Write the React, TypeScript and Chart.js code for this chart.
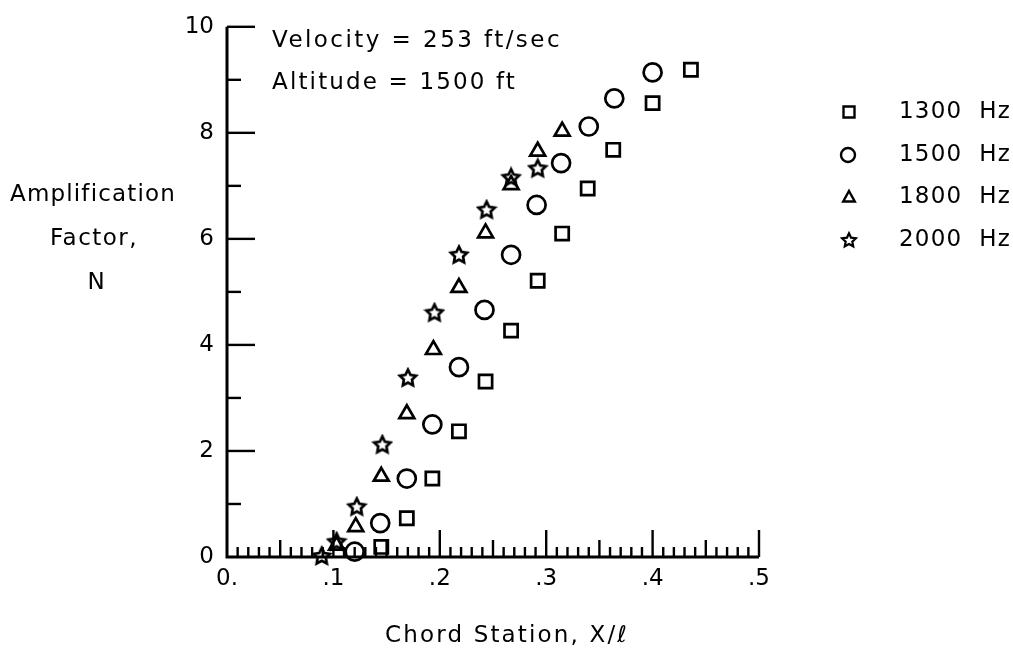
import React, { useEffect, useRef } from 'react';
import { Chart, registerables } from 'chart.js';

Chart.register(...registerables);

// ---- data ----
const seriesLabels = ['1300  Hz', '1500  Hz', '1800  Hz', '2000  Hz'];

const x1300 = [0.145, 0.169, 0.193, 0.218, 0.243, 0.267, 0.292, 0.315, 0.339, 0.363, 0.400, 0.436];
const y1300 = [0.19, 0.73, 1.48, 2.37, 3.31, 4.27, 5.21, 6.10, 6.95, 7.68, 8.56, 9.19];

const x1500 = [0.120, 0.144, 0.169, 0.193, 0.218, 0.242, 0.267, 0.291, 0.314, 0.340, 0.364, 0.400];
const y1500 = [0.10, 0.64, 1.48, 2.50, 3.58, 4.66, 5.70, 6.64, 7.43, 8.12, 8.65, 9.14];

const x1800 = [0.103, 0.121, 0.145, 0.169, 0.194, 0.218, 0.243, 0.267, 0.292, 0.315];
const y1800 = [0.22, 0.57, 1.52, 2.70, 3.91, 5.08, 6.11, 7.02, 7.65, 8.03];

const x2000 = [0.089, 0.103, 0.122, 0.146, 0.170, 0.195, 0.218, 0.244, 0.267, 0.292];
const y2000 = [0.02, 0.29, 0.95, 2.12, 3.38, 4.61, 5.70, 6.55, 7.16, 7.33];

const xTickLabels = ['0.', '.1', '.2', '.3', '.4', '.5'];
const annotationLines = ['Velocity = 253 ft/sec', 'Altitude = 1500 ft'];
const yTitleLines = ['Amplification', 'Factor,', 'N'];
const xTitle = 'Chord Station, X/\u2113';

const FONT = '"DejaVu Sans", "Liberation Sans", sans-serif';

function starPath(ctx: CanvasRenderingContext2D, cx: number, cy: number, R: number, r: number) {
  ctx.beginPath();
  for (let i = 0; i < 10; i++) {
    const rad = i % 2 === 0 ? R : r;
    const a = -Math.PI / 2 + (i * Math.PI) / 5;
    const px = cx + rad * Math.cos(a);
    const py = cy + rad * Math.sin(a);
    if (i === 0) ctx.moveTo(px, py);
    else ctx.lineTo(px, py);
  }
  ctx.closePath();
}

function makeStar(): HTMLCanvasElement {
  const c = document.createElement('canvas');
  c.width = 22;
  c.height = 22;
  const g = c.getContext('2d')!;
  g.strokeStyle = '#000';
  g.lineWidth = 2.7;
  g.lineJoin = 'miter';
  starPath(g, 11, 11.5, 8.6, 4.3);
  g.stroke();
  return c;
}

function fitText(ctx: any, text: string, left: number, y: number, width: number) {
  ctx.letterSpacing = '0px';
  const w0 = ctx.measureText(text).width;
  const n = Math.max(1, text.length);
  const ls = (width - w0) / n;
  ctx.letterSpacing = ls + 'px';
  ctx.textAlign = 'left';
  ctx.textBaseline = 'middle';
  ctx.fillText(text, left, y);
  ctx.letterSpacing = '0px';
}

const decorPlugin = {
  id: 'decor',
  afterDraw(chart: any) {
    const ctx: CanvasRenderingContext2D = chart.ctx;
    const xs = chart.scales.x;
    const ys = chart.scales.y;
    const x0 = xs.getPixelForValue(0);
    const x1 = xs.getPixelForValue(0.5);
    const y0 = ys.getPixelForValue(0);
    const y1 = ys.getPixelForValue(10);
    ctx.save();
    ctx.strokeStyle = '#000';
    ctx.fillStyle = '#000';
    ctx.lineCap = 'butt';
    // axes
    ctx.lineWidth = 3;
    ctx.beginPath();
    ctx.moveTo(x0, y1);
    ctx.lineTo(x0, y0);
    ctx.lineTo(x1, y0);
    ctx.stroke();
    // x ticks (inward)
    ctx.lineWidth = 2.4;
    for (let i = 1; i <= 50; i++) {
      const px = xs.getPixelForValue(i / 100);
      const len = i % 10 === 0 ? 27 : i % 5 === 0 ? 17 : 10;
      ctx.beginPath();
      ctx.moveTo(px, y0);
      ctx.lineTo(px, y0 - len);
      ctx.stroke();
    }
    // y ticks (inward)
    for (let j = 1; j <= 10; j++) {
      const py = ys.getPixelForValue(j);
      const len = j % 2 === 0 ? 28 : 14;
      ctx.beginPath();
      ctx.moveTo(x0, py);
      ctx.lineTo(x0 + len, py);
      ctx.stroke();
    }
    // texts
    ctx.font = `23px ${FONT}`;
    fitText(ctx, annotationLines[0], 272, 41, 290);
    fitText(ctx, annotationLines[1], 272, 83, 245);
    fitText(ctx, yTitleLines[0], 10, 195, 166);
    fitText(ctx, yTitleLines[1], 50, 239, 88);
    ctx.textAlign = 'center';
    ctx.textBaseline = 'middle';
    ctx.fillText(yTitleLines[2], 96, 283);
    fitText(ctx, xTitle, 385, 636, 244);
    // legend
    const rows = [112, 155, 197, 240];
    const mx = 849;
    ctx.lineWidth = 2.4;
    ctx.beginPath();
    ctx.rect(mx - 5.5, rows[0] - 5.5, 11, 11);
    ctx.stroke();
    ctx.beginPath();
    ctx.arc(mx - 1, rows[1], 7, 0, Math.PI * 2);
    ctx.stroke();
    ctx.beginPath();
    ctx.moveTo(mx, rows[2] - 6);
    ctx.lineTo(mx + 5.8, rows[2] + 4.5);
    ctx.lineTo(mx - 5.8, rows[2] + 4.5);
    ctx.closePath();
    ctx.stroke();
    ctx.lineWidth = 2.2;
    starPath(ctx, mx, rows[3] + 0.5, 7.2, 3.5);
    ctx.stroke();
    ctx.font = `23px ${FONT}`;
    for (let k = 0; k < 4; k++) {
      fitText(ctx, seriesLabels[k], 899, rows[k], 112);
    }
    ctx.restore();
  },
};

function toPoints(xs: number[], ys: number[]) {
  return xs.map((x, i) => ({ x, y: ys[i] }));
}

export default function App() {
  const ref = useRef<HTMLCanvasElement | null>(null);
  useEffect(() => {
    if (!ref.current) return;
    const star = makeStar();
    const common = {
      showLine: false,
      borderColor: '#000',
      backgroundColor: 'rgba(0,0,0,0)',
      borderWidth: 2.7,
      clip: false as any,
    };
    const chart = new Chart(ref.current, {
      type: 'scatter',
      data: {
        datasets: [
          { ...common, label: seriesLabels[0], data: toPoints(x1300, y1300), pointStyle: 'rect', pointRadius: 9.3 },
          { ...common, label: seriesLabels[1], data: toPoints(x1500, y1500), pointStyle: 'circle', pointRadius: 9 },
          { ...common, label: seriesLabels[2], data: toPoints(x1800, y1800), pointStyle: 'triangle', pointRadius: 8.6 },
          { ...common, label: seriesLabels[3], data: toPoints(x2000, y2000), pointStyle: star as any, pointRadius: 9 },
        ],
      },
      options: {
        animation: false,
        responsive: false,
        devicePixelRatio: 1,
        layout: { padding: { left: 0, right: 254, top: 25, bottom: 0 } },
        plugins: { legend: { display: false }, tooltip: { enabled: false } },
        scales: {
          x: {
            type: 'linear',
            min: 0,
            max: 0.5,
            grid: { display: false, drawTicks: false },
            border: { display: false },
            ticks: {
              stepSize: 0.1,
              autoSkip: false,
              maxRotation: 0,
              color: '#000',
              padding: 8,
              font: { family: FONT, size: 23 },
              callback: (v: any) => xTickLabels[Math.round(Number(v) * 10)] ?? '',
            },
            afterFit: (s: any) => {
              s.height = 96;
            },
          },
          y: {
            type: 'linear',
            min: 0,
            max: 10,
            grid: { display: false, drawTicks: false },
            border: { display: false },
            ticks: {
              stepSize: 2,
              color: '#000',
              padding: 13,
              font: { family: FONT, size: 23 },
            },
            afterFit: (s: any) => {
              s.width = 227;
            },
          },
        },
      },
      plugins: [decorPlugin],
    });
    return () => chart.destroy();
  }, []);
  return (
    <div style={{ position: 'absolute', left: 0, top: 0, width: 1013, height: 653, background: '#fff' }}>
      <canvas ref={ref} width={1013} height={653} style={{ display: 'block' }} />
    </div>
  );
}
